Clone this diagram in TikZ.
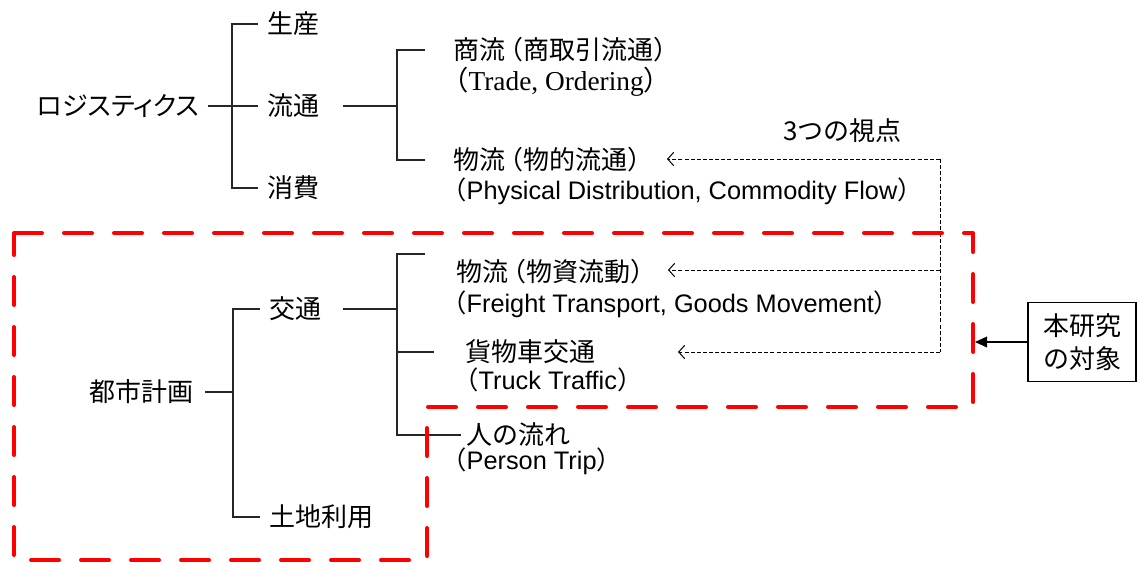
\documentclass[tikz,border=0pt]{standalone}
\usepackage{fontspec}
\setmainfont{Noto Sans CJK JP}
\newfontfamily\jp{Noto Sans CJK JP}
\newfontfamily\jpp[RawFeature=+palt]{Noto Sans CJK JP}
\newfontfamily\lsans{Liberation Sans}
\newfontfamily\lserif{Liberation Serif}
\usetikzlibrary{arrows.meta}
\begin{document}
\begin{tikzpicture}[x=0.75pt,y=-0.75pt,
  jtxt/.style={anchor=west, inner sep=0pt, font=\jp\fontsize{19.5}{22}\selectfont},
  etxt/.style={anchor=west, inner sep=0pt, font=\lsans\fontsize{19}{22}\selectfont},
  stxt/.style={anchor=west, inner sep=0pt, font=\lserif\fontsize{20.5}{22}\selectfont},
  tree/.style={draw=black!85, line width=0.8pt},
  view/.style={draw=black, line width=0.75pt, dash pattern=on 3pt off 1.6pt, -{Straight Barb[length=4.5pt,width=10pt,line width=0.75pt]}},
  viewline/.style={draw=black, line width=0.75pt, dash pattern=on 3pt off 1.6pt},
  redbox/.style={draw=red, line width=3pt, line cap=round, line join=round, dash pattern=on 21pt off 16.5pt},
  tgt/.style={draw=black, line width=1.2pt, inner sep=0pt, minimum width=81pt, minimum height=59pt, align=center, font=\jp\fontsize{19.5}{25}\selectfont}
]
\useasboundingbox (0,0) rectangle (1140,565);

% upper tree
\node[jtxt, font=\jpp\fontsize{19.5}{22}\selectfont] (logi) at (37,106) {ロジスティクス};
\node[jtxt] (seisan) at (267,24) {生産};
\node[jtxt] (ryutsu) at (267,106) {流通};
\node[jtxt] (shohi) at (267,188) {消費};
\node[jtxt] (shoryu) at (453,50) {商流\kern-0.3em（商取引流通）};
\node[stxt] (trade) at (441,82) {{\jp（}Trade, Ordering{\jp ）}};
\node[jtxt] (butsu1) at (453,160) {物流\kern-0.3em（物的流通）};
\node[etxt] (phys) at (441,191) {{\jp （}Physical Distribution, Commodity Flow{\jp ）}};
\node[jtxt] (mitsu) at (783,131) {3つの視点};

\coordinate (j1) at (232,106);
\coordinate (j2) at (397,106);
\draw[tree] ([xshift=6pt]logi.east) -- (j1) -- ([xshift=-7pt]ryutsu.west);
\draw[tree] ([xshift=-7pt]seisan.west) -| (j1) |- ([xshift=-7pt]shohi.west);
\draw[tree] (343,106) -- (j2);
\draw[tree] (j2 |- shoryu.west) ++(21pt,0) coordinate (b1) -| (j2);
\draw[tree] (j2) |- ([xshift=21pt]j2 |- butsu1.west);

% lower tree
\node[jtxt] (toshi) at (89,392) {都市計画};
\node[jtxt] (kotsu) at (269,309) {交通};
\node[jtxt] (tochi) at (269,517) {土地利用};
\node[jtxt] (butsu2) at (456,272) {物流\kern-0.3em（物資流動）};
\node[etxt] (freight) at (441,304) {{\jp （}Freight Transport, Goods Movement{\jp ）}};
\node[jtxt] (kamotsu) at (465,352) {貨物車交通};
\node[etxt] (truck) at (453,380) {{\jp （}Truck Traffic{\jp ）}};
\node[jtxt] (hito) at (466,435) {人の流れ};
\node[etxt] (person) at (441,461) {{\jp （}Person Trip{\jp ）}};

\coordinate (k1) at (233,392);
\coordinate (k2) at (397,309);
\coordinate (k2t) at (397,254);
\coordinate (k2m) at (397,352);
\coordinate (k2b) at (397,435);
\draw[tree] (205,392) -- (k1);
\draw[tree] ([xshift=-7pt]kotsu.west) -| (k1) |- ([xshift=-7pt]tochi.west);
\draw[tree] (343,309) -- (k2);
\draw[tree] ([xshift=21pt]k2t) -- (k2t) -- (k2b) -- ([xshift=-4pt]hito.west);
\draw[tree] (k2m) -- ([xshift=28pt]k2m);

% three viewpoints
\coordinate (c1) at (940,159);
\coordinate (c2) at (940,270);
\coordinate (c3) at (940,352);
\draw[viewline] (c1) -- (c3);
\draw[view] (c1) -- (667,159);
\draw[view] (c2) -- (668,270);
\draw[view] (c3) -- (678,352);

% red dashed region
\draw[redbox] (14,233) -- (973,233) -- (973,407) -- (427,407) -- (427,560) -- (14,560) -- cycle;

% target box
\node[tgt] (target) at (1082,342) {本研究\\の対象};
\coordinate (hit) at (975,342);
\draw[line width=1.2pt, -{Triangle[length=9pt,width=8pt]}] (target.west) -- (hit);
\end{tikzpicture}
\end{document}
